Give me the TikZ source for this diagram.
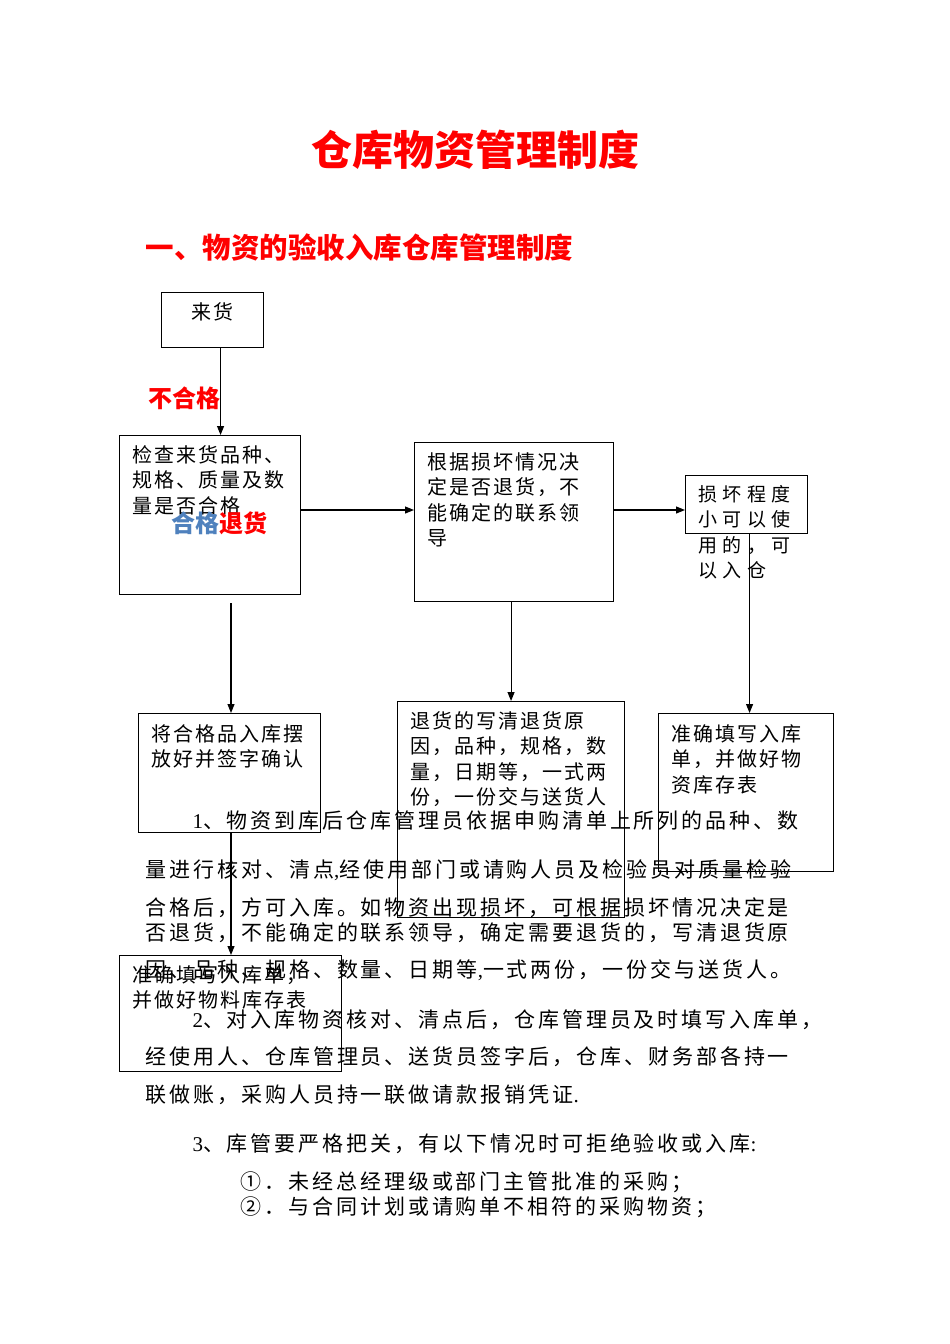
\documentclass[tikz,border=0pt]{standalone}
\usepackage{fontspec}
\setmainfont{Noto Sans CJK SC}
\newfontfamily\latin{Liberation Serif}
\usetikzlibrary{arrows.meta}
\definecolor{okblue}{RGB}{79,129,189}
\definecolor{alarmred}{RGB}{255,0,0}
\newcommand{\bodyfont}{\fontsize{21}{25}\selectfont\addfontfeatures{LetterSpace=14}}
\newcommand{\boxfont}{\fontsize{20}{25.5}\selectfont\addfontfeatures{LetterSpace=10}}
\newcommand{\widefont}{\fontsize{19}{25.3}\selectfont\addfontfeatures{LetterSpace=28}}

\begin{document}
\begin{tikzpicture}[x=1pt,y=-1pt,>={Triangle[length=9pt,width=7pt]},line width=1.1pt,
  box/.style={draw,rectangle,inner sep=0pt,anchor=north west},
  boxtext/.style={anchor=north west,inner sep=0pt,align=left,font=\boxfont},
  para/.style={anchor=west,inner sep=0pt,font=\bodyfont},
  redtag/.style={inner sep=0pt,text=alarmred,font=\fontsize{24}{24}\selectfont\bfseries}]
  \useasboundingbox (0,0) rectangle (950,1344);

  % headings
  \node[inner sep=0pt,text=alarmred,font=\fontsize{41}{41}\selectfont\bfseries] (title) at (475,150) {仓库物资管理制度};
  \node[inner sep=0pt,anchor=west,text=alarmred,font=\fontsize{28.5}{28.5}\selectfont\bfseries] (sub) at (145,248) {一、物资的验收入库仓库管理制度};

  % boxes
  \node[box,minimum width=102pt,minimum height=55pt] (arrive) at (161,292) {};
  \node[box,minimum width=181pt,minimum height=159pt] (check) at (119,435) {};
  \node[box,minimum width=199pt,minimum height=159pt] (judge) at (414,442) {};
  \node[box,minimum width=122pt,minimum height=58pt] (minor) at (685,475) {};
  \node[box,minimum width=182pt,minimum height=119pt] (store) at (138,713) {};
  \node[box,minimum width=227pt,minimum height=216pt] (ret) at (397,701) {};
  \node[box,minimum width=175pt,minimum height=158pt] (fill) at (658,713) {};
  \node[box,minimum width=222pt,minimum height=116pt] (record) at (119,955) {};

  % box texts
  \node[inner sep=0pt,font=\boxfont] (arrive-t) at (212,312) {来货};
  \node[boxtext] (check-t) at (132,445) {检查来货品种、\\规格、质量及数\\量是否合格};
  \node[boxtext] (judge-t) at (427,452) {根据损坏情况决\\定是否退货，不\\能确定的联系领\\导};
  \node[boxtext,font=\widefont] (minor-t) at (698,485) {损坏程度\\小可以使\\用的，可\\以入仓};
  \node[boxtext] (store-t) at (151,724) {将合格品入库摆\\放好并签字确认};
  \node[boxtext] (ret-t) at (410,711) {退货的写清退货原\\因，品种，规格，数\\量，日期等，一式两\\份，一份交与送货人};
  \node[boxtext] (fill-t) at (671,724) {准确填写入库\\单，并做好物\\资库存表};
  \node[boxtext] (record-t) at (132,965) {准确填写入库单，\\并做好物料库存表};

  % tags
  \node[redtag,anchor=east] (fail) at (221,398) {不合格};
  \node[redtag,anchor=west] (pass) at (171,523) {\textcolor{okblue}{合格}退货};

  % connectors
  \coordinate (row) at (0,510);
  \coordinate (down) at (231,603);
  \draw[->] ([xshift=8pt]arrive.south) -- ([xshift=8pt]arrive.south |- check.north);
  \draw[->] (check.east |- row) -- (judge.west |- row);
  \draw[->] (judge.east |- row) -- (minor.west |- row);
  \draw[->] (down) -- (down |- store.north);
  \draw[->] (judge.south -| ret.north) -- (ret.north);
  \draw[->] ([xshift=3pt]minor.south) -- ([xshift=3pt]minor.south |- fill.north);
  \draw[->] (store.south -| down) -- (record.north -| down);

  % running text
  \node[para] (p1) at (192,821) {{\latin 1}、物资到库后仓库管理员依据申购清单上所列的品种、数};
  \node[para] (p2) at (145,870) {量进行核对、清点{\latin ,}经使用部门或请购人员及检验员对质量检验};
  \node[para] (p3) at (145,908) {合格后，方可入库。如物资出现损坏，可根据损坏情况决定是};
  \node[para] (p4) at (145,933) {否退货，不能确定的联系领导，确定需要退货的，写清退货原};
  \node[para] (p5) at (145,970) {因、品种、规格、数量、日期等{\latin ,}一式两份，一份交与送货人。};
  \node[para] (p6) at (192,1020) {{\latin 2}、对入库物资核对、清点后，仓库管理员及时填写入库单，};
  \node[para] (p7) at (145,1057) {经使用人、仓库管理员、送货员签字后，仓库、财务部各持一};
  \node[para] (p8) at (145,1095) {联做账，采购人员持一联做请款报销凭证{\latin .}};
  \node[para] (p9) at (192,1144) {{\latin 3}、库管要严格把关，有以下情况时可拒绝验收或入库{\latin :}};
  \node[para] (p10) at (240,1182) {①．未经总经理级或部门主管批准的采购；};
  \node[para] (p11) at (240,1207) {②．与合同计划或请购单不相符的采购物资；};

\end{tikzpicture}
\end{document}
